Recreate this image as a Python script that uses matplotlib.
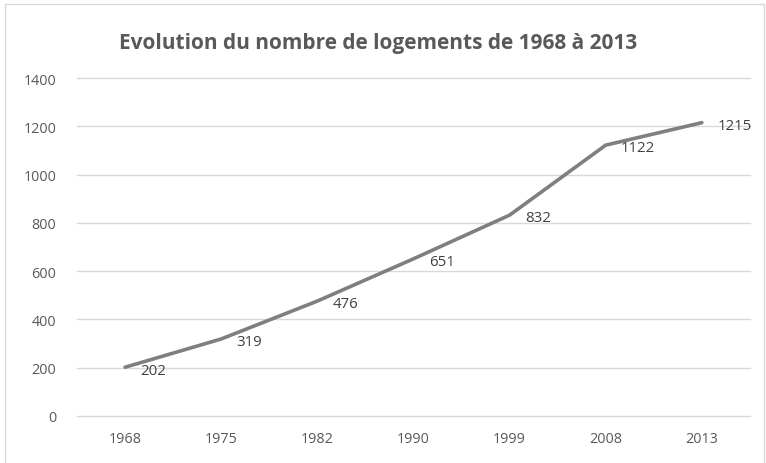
import matplotlib.pyplot as plt
from matplotlib.patches import Rectangle

annees = ["1968", "1975", "1982", "1990", "1999", "2008", "2013"]
logements = [202, 319, 476, 651, 832, 1122, 1215]
graduations = [0, 200, 400, 600, 800, 1000, 1200, 1400]

plt.rcParams['font.family'] = ['Open Sans', 'DejaVu Sans']

fig = plt.figure(figsize=(7.66, 4.64), dpi=100)
ax = fig.add_axes([0.1005, 0.1013, 0.8785, 0.7284])

x = range(len(annees))
ax.plot(x, logements, color='#7f7f7f', linewidth=2.6, solid_capstyle='round', zorder=3)

for xi, v in zip(x, logements):
    ax.annotate(str(v), (xi, v), xytext=(11, -2), textcoords='offset points',
                ha='left', va='center', fontsize=10.8, color='#404040')

ax.set_xlim(-0.5, len(annees) - 0.5)
ax.set_ylim(0, 1400)
ax.set_yticks(graduations)
ax.set_xticks(list(x))
ax.set_xticklabels(annees)
ax.tick_params(axis='both', length=0, labelsize=10.4, labelcolor='#595959')
ax.tick_params(axis='y', pad=15)
ax.tick_params(axis='x', pad=11)
ax.grid(axis='y', color='#d9d9d9', linewidth=1)
for gl in ax.get_ygridlines():
    gl.set_clip_on(False)
ax.set_axisbelow(True)
for s in ax.spines.values():
    s.set_visible(False)

fig.text(0.494, 0.906, "Evolution du nombre de logements de 1968 à 2013",
         ha='center', va='center', fontsize=15, fontweight='bold', color='#595959')

# chart frame
fig.patches.append(Rectangle((0.007, -0.01), 0.99, 1.0, transform=fig.transFigure,
                             fill=False, edgecolor='#d9d9d9', linewidth=1))

fig.savefig('out.png', dpi=100)
